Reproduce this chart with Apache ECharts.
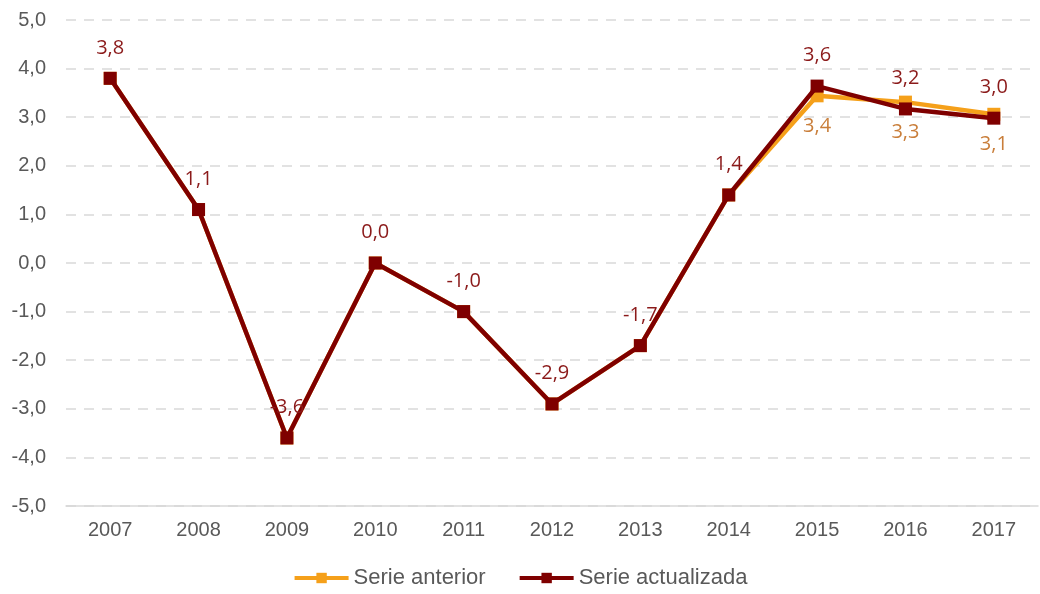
<!DOCTYPE html>
<html>
<head>
<meta charset="utf-8">
<script src="https://cdn.jsdelivr.net/npm/echarts@6/dist/echarts.min.js"></script>
<style>html,body{margin:0;padding:0;background:#fff}#c{width:1040px;height:594px}</style>
</head>
<body>
<div id="c"></div>
<script>
const categories = ['2007','2008','2009','2010','2011','2012','2013','2014','2015','2016','2017'];
const serieAnterior = [3.8, 1.1, -3.6, 0.0, -1.0, -2.9, -1.7, 1.4, 3.44, 3.31, 3.06];
const serieActualizada = [3.8, 1.1, -3.6, 0.0, -1.0, -2.9, -1.7, 1.4, 3.64, 3.17, 2.98];
const anteriorLabelFrom = 8; // labels shown for 2015-2017 only

const fmt = v => v.toFixed(1).replace('.', ',');

const chart = echarts.init(document.getElementById('c'));
chart.setOption({
  animation: false,
  grid: { left: 66, right: 2, top: 20, bottom: 88 },
  legend: {
    bottom: 0,
    left: 'center',
    itemWidth: 54,
    itemHeight: 13,
    itemGap: 32,
    lineStyle: { width: 4 },
    textStyle: { fontFamily: 'Liberation Sans', fontSize: 22, color: '#595959' },
    data: ['Serie anterior', 'Serie actualizada']
  },
  xAxis: {
    type: 'category',
    data: categories,
    boundaryGap: true,
    axisLine: { show: true, onZero: false, lineStyle: { color: '#d9d9d9', width: 1.5 } },
    axisTick: { show: false },
    axisLabel: { fontFamily: 'Liberation Sans', fontSize: 20, color: '#595959', margin: 14 }
  },
  yAxis: {
    type: 'value',
    min: -5, max: 5, interval: 1,
    axisLine: { show: false },
    axisTick: { show: false },
    splitLine: { lineStyle: { color: '#d9d9d9', type: [10, 8], width: 1.5 } },
    axisLabel: { fontFamily: 'Liberation Sans', fontSize: 20, color: '#595959', margin: 20, formatter: v => fmt(v) }
  },
  series: [
    {
      name: 'Serie anterior',
      type: 'line',
      data: serieAnterior,
      color: '#f5a01a',
      lineStyle: { width: 4.5, color: '#f5a01a' },
      symbol: 'rect',
      symbolSize: 13,
      itemStyle: { color: '#f5a01a' },
      label: {
        show: true,
        position: 'bottom',
        distance: 14,
        fontFamily: 'Open Sans',
        fontSize: 20,
        color: '#c97e3a',
        formatter: p => p.dataIndex >= anteriorLabelFrom ? fmt(p.value) : ''
      },
      z: 2
    },
    {
      name: 'Serie actualizada',
      type: 'line',
      data: serieActualizada,
      color: '#7f0000',
      lineStyle: { width: 4.5, color: '#7f0000' },
      symbol: 'rect',
      symbolSize: 13,
      itemStyle: { color: '#7f0000' },
      label: {
        show: true,
        position: 'top',
        distance: 14,
        fontFamily: 'Open Sans',
        fontSize: 20,
        color: '#8b1a1a',
        formatter: p => fmt(p.value)
      },
      z: 3
    }
  ]
});
</script>
</body>
</html>
